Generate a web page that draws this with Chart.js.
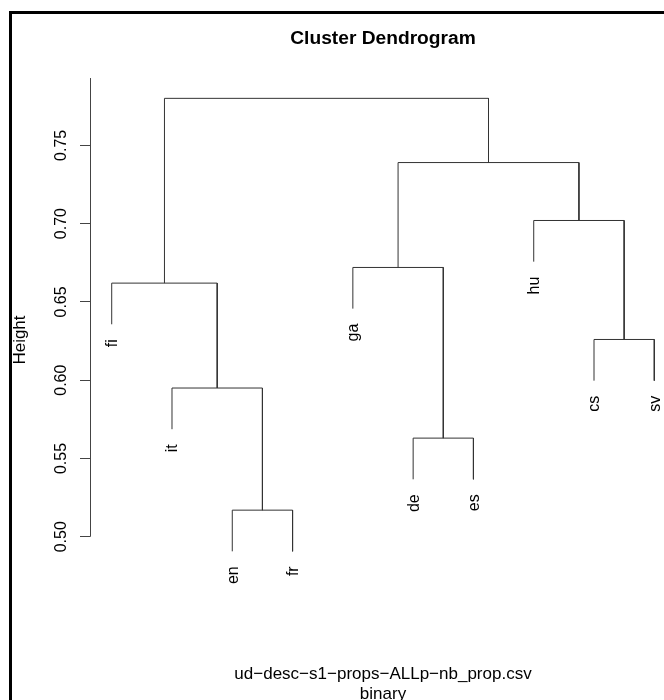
<!DOCTYPE html>
<html>
<head>
<meta charset="utf-8">
<script src="https://cdn.jsdelivr.net/npm/chart.js@4.4.1/dist/chart.umd.min.js"></script>
<style>
body{margin:0;width:664px;height:700px;overflow:hidden;background:#fff;}
#wrap{position:absolute;left:0;top:0;width:680px;height:710px;}
#frame{position:absolute;left:9px;top:11px;width:720px;height:720px;border-left:3px solid #000;border-top:3px solid #000;pointer-events:none;}
</style>
</head>
<body>
<div id="wrap"><canvas id="canvas"></canvas></div>
<div id="frame"></div>
<script>
// leaves in plotting order
const leafLabels = ['fi','it','en','fr','ga','de','es','hu','cs','sv'];
// hclust style merges: negative = leaf position, positive = earlier merge
const mergeA = [-3, -6, -2, -9, -1, -5, -8, 6, 5];
const mergeB = [-4, -7, 1, -10, 3, 2, 4, 7, 8];
const mergeHeight = [0.517, 0.563, 0.595, 0.626, 0.662, 0.672, 0.702, 0.739, 0.780];
const hang = 0.1;
const yTicks = [0.50, 0.55, 0.60, 0.65, 0.70, 0.75];

const FONT = '"Liberation Sans", Arial, Helvetica, sans-serif';

var hangSize = hang*(Math.max(...mergeHeight)-Math.min(...mergeHeight));
var leafY = [];
var mergeX = [];

function build_tree(){
    let sets = [];
    for(var i=0;i<mergeA.length;i++){
        let h = mergeHeight[i];
        let kids = [mergeA[i], mergeB[i]];
        let pts = [];
        for(var k=0;k<2;k++){
            let c = kids[k];
            let cx, cy;
            if (c<0){
                cx = -c;
                cy = h-hangSize;
                leafY[-c-1] = cy;
            }
            else{
                cx = mergeX[c-1];
                cy = mergeHeight[c-1];
            }
            if (k==0){
                pts.push({x:cx,y:cy});
                pts.push({x:cx,y:h});
            }
            else{
                pts.push({x:cx,y:h});
                pts.push({x:cx,y:cy});
            }
        }
        mergeX[i] = (pts[0].x+pts[3].x)/2;
        sets.push({
            data: pts,
            showLine: true,
            borderColor: '#333',
            borderWidth: 1,
            pointRadius: 0,
            tension: 0,
            fill: false
        });
    }
    return sets;
}

const leafText = {
    id: 'leafText',
    afterDatasetsDraw(chart){
        const ctx = chart.ctx;
        const xs = chart.scales.x, ys = chart.scales.y;
        ctx.save();
        ctx.fillStyle = '#000';
        ctx.font = '16px '+FONT;
        ctx.textAlign = 'right';
        ctx.textBaseline = 'middle';
        for(var i=0;i<leafLabels.length;i++){
            let px = xs.getPixelForValue(i+1);
            let py = ys.getPixelForValue(leafY[i])+15;
            ctx.save();
            ctx.translate(px+1, py);
            ctx.rotate(-Math.PI/2);
            ctx.fillText(leafLabels[i], 0, 0);
            ctx.restore();
        }
        // y axis line, from first tick to top of plot
        let ax = Math.round(ys.right)+0.5;
        ctx.strokeStyle = '#444';
        ctx.lineWidth = 1;
        ctx.beginPath();
        ctx.moveTo(ax, ys.getPixelForValue(yTicks[0]));
        ctx.lineTo(ax, chart.chartArea.top-2);
        ctx.stroke();
        ctx.restore();
    }
};

var ctx = document.getElementById('canvas').getContext('2d');
var myChart = new Chart(ctx, {
    type: 'scatter',
    data: { datasets: build_tree() },
    plugins: [leafText],
    options: {
        responsive: true,
        maintainAspectRatio: false,
        animation: false,
        layout: { padding: { left: 0, right: 4, top: 0, bottom: 0 } },
        scales: {
            x: {
                type: 'linear',
                min: 0.64,
                max: 10.36,
                display: false
            },
            y: {
                type: 'linear',
                min: 0.4596,
                max: 0.7917,
                afterBuildTicks: (scale) => {
                    scale.ticks = yTicks.map(v => ({value: v}));
                },
                afterFit: (scale) => { scale.width = 90; },
                border: { display: false },
                grid: {
                    drawOnChartArea: false,
                    drawTicks: true,
                    tickLength: 10,
                    color: '#444',
                    lineWidth: 1
                },
                ticks: {
                    minRotation: 90,
                    maxRotation: 90,
                    crossAlign: 'center',
                    padding: 3,
                    color: '#000',
                    font: { family: FONT, size: 16 },
                    callback: (v) => Number(v).toFixed(2)
                },
                title: {
                    display: true,
                    text: 'Height',
                    color: '#000',
                    font: { family: FONT, size: 17 },
                    padding: { top: 10, bottom: 0 }
                }
            }
        },
        plugins: {
            legend: { display: false },
            tooltip: { enabled: false },
            title: {
                display: true,
                fullSize: false,
                text: 'Cluster Dendrogram',
                color: '#000',
                font: { family: FONT, size: 19.2, weight: 'bold', lineHeight: 1.2 },
                padding: { top: 27, bottom: 30 }
            },
            subtitle: {
                display: true,
                fullSize: false,
                position: 'bottom',
                text: ['ud\u2212desc\u2212s1\u2212props\u2212ALLp\u2212nb_prop.csv', 'binary'],
                color: '#000',
                font: { family: FONT, size: 17, weight: 'normal', lineHeight: 1.176 },
                padding: { top: 64, bottom: 6 }
            }
        }
    }
});
</script>
</body>
</html>
